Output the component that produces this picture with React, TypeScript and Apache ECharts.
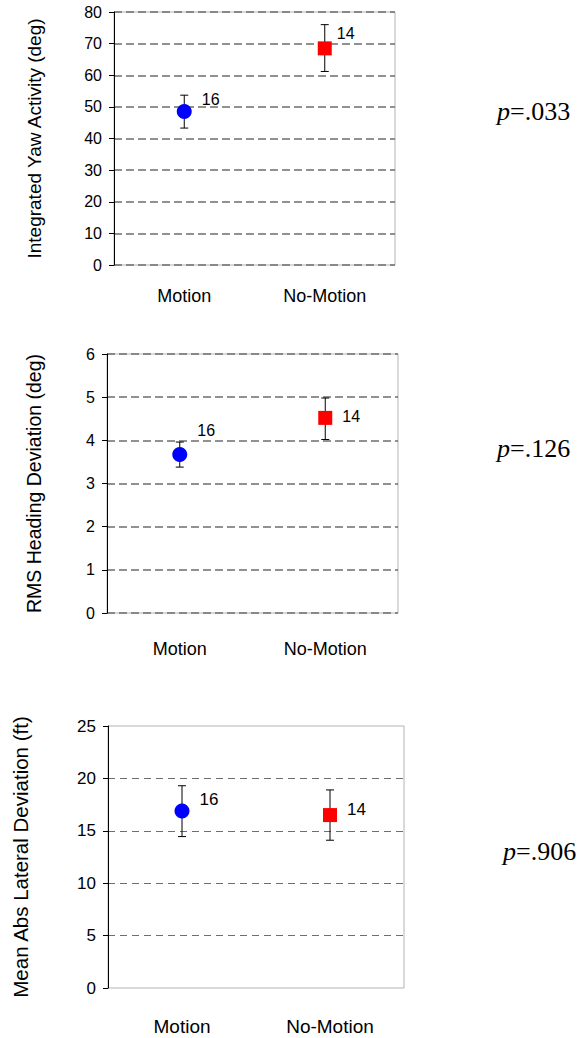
import React, { useEffect, useRef } from "react";
import * as echarts from "echarts";

const categories = ["Motion", "No-Motion"];
const groupN = [16, 14];

const yawMean = [48.5, 68.5];
const yawLow = [43.3, 61.2];
const yawHigh = [53.7, 76.0];

const headingMean = [3.67, 4.52];
const headingLow = [3.38, 4.02];
const headingHigh = [3.96, 4.98];

const lateralMean = [16.9, 16.5];
const lateralLow = [14.45, 14.1];
const lateralHigh = [19.3, 18.9];

const yawTicks = { min: 0, max: 80, interval: 10 };
const headingTicks = { min: 0, max: 6, interval: 1 };
const lateralTicks = { min: 0, max: 25, interval: 5 };

const titles = [
  "Integrated Yaw Activity (deg)",
  "RMS Heading Deviation (deg)",
  "Mean Abs Lateral Deviation (ft)",
];
const pValues = [".033", ".126", ".906"];

// layout / style (not data)
const grids = [
  { left: 114, top: 12, width: 281, height: 253 },
  { left: 107, top: 354, width: 291, height: 259 },
  { left: 108, top: 726, width: 296, height: 262 },
];
const fonts = [
  { tick: 16, cat: 18, title: 19, n: 16, catMargin: 22, nameGap: 70 },
  { tick: 16, cat: 18, title: 19.5, n: 16, catMargin: 27, nameGap: 63 },
  { tick: 17, cat: 19, title: 20.5, n: 17, catMargin: 29, nameGap: 77 },
];
const labelOffsets = [
  [[10, -12], [5, -15]],
  [[10, -24], [10, -1]],
  [[10, -11], [10, -6]],
];
const pPos = [
  { x: 497, y: 120 },
  { x: 497, y: 457 },
  { x: 503, y: 860 },
];

export default function App() {
  const ref = useRef<HTMLDivElement>(null);
  useEffect(() => {
    document.body.style.margin = "0";
    if (!ref.current) return;
    const chart = echarts.init(ref.current, null, { renderer: "svg" });
    const means = [yawMean, headingMean, lateralMean];
    const lows = [yawLow, headingLow, lateralLow];
    const highs = [yawHigh, headingHigh, lateralHigh];
    const ticks = [yawTicks, headingTicks, lateralTicks];
    const FF = "Liberation Sans, Arial, sans-serif";

    const xAxis: any[] = [];
    const yAxis: any[] = [];
    const series: any[] = [];
    for (let i = 0; i < 3; i++) {
      const f = fonts[i];
      xAxis.push({
        type: "category",
        gridIndex: i,
        data: categories,
        axisLine: { show: false },
        axisTick: { show: false },
        axisLabel: { fontFamily: FF, fontSize: f.cat, color: "#000", margin: f.catMargin },
        splitLine: { show: false },
      });
      yAxis.push({
        type: "value",
        gridIndex: i,
        min: ticks[i].min,
        max: ticks[i].max,
        interval: ticks[i].interval,
        name: titles[i],
        nameLocation: "middle",
        nameRotate: 90,
        nameGap: f.nameGap,
        nameTextStyle: { fontFamily: FF, fontSize: f.title, color: "#000" },
        axisLine: { show: true, lineStyle: { color: "#000", width: 1 } },
        axisTick: { show: true, length: 5, lineStyle: { color: "#000" } },
        axisLabel: { fontFamily: FF, fontSize: f.tick, color: "#000", margin: 12 },
        splitLine: {
          show: true,
          showMinLine: i !== 2,
          showMaxLine: i !== 2,
          lineStyle: { color: "#6e6e6e", width: i === 2 ? 1 : 1.5, type: i === 2 ? [7, 5] : [8, 4] },
        },
      });
      series.push({
        type: "custom",
        xAxisIndex: i,
        yAxisIndex: i,
        z: 2,
        data: categories.map((_, k) => [k, lows[i][k], highs[i][k]]),
        encode: { x: 0, y: [1, 2] },
        renderItem: (params: any, api: any) => {
          const x = api.value(0);
          const lo = api.coord([x, api.value(1)]);
          const hi = api.coord([x, api.value(2)]);
          const cap = 4;
          const st = { stroke: "#000", lineWidth: 1 };
          return {
            type: "group",
            children: [
              { type: "line", shape: { x1: hi[0], y1: hi[1], x2: lo[0], y2: lo[1] }, style: st },
              { type: "line", shape: { x1: hi[0] - cap, y1: hi[1], x2: hi[0] + cap, y2: hi[1] }, style: st },
              { type: "line", shape: { x1: lo[0] - cap, y1: lo[1], x2: lo[0] + cap, y2: lo[1] }, style: st },
            ],
          };
        },
      });
      series.push({
        type: "scatter",
        xAxisIndex: i,
        yAxisIndex: i,
        z: 3,
        symbolSize: 15,
        data: means[i].map((v, k) => ({
          value: [k, v],
          symbol: k === 0 ? "circle" : "rect",
          symbolSize: k === 0 ? 15 : 14,
          itemStyle: { color: k === 0 ? "#0000ff" : "#ff0000", opacity: 1 },
          label: {
            show: true,
            position: "right",
            distance: 0,
            offset: labelOffsets[i][k],
            formatter: String(groupN[k]),
            fontFamily: FF,
            fontSize: f.n,
            color: "#000",
          },
        })),
      });
    }

    const graphic = pValues.map((p, i) => ({
      type: "text",
      left: pPos[i].x,
      top: pPos[i].y - 22,
      style: {
        text: "{i|p}{n|=" + p + "}",
        rich: {
          i: { fontFamily: "Liberation Serif, Times New Roman, serif", fontStyle: "italic", fontSize: 26, fill: "#000" },
          n: { fontFamily: "Liberation Serif, Times New Roman, serif", fontSize: 26, fill: "#000" },
        },
      },
    }));

    chart.setOption({
      animation: false,
      backgroundColor: "#fff",
      grid: grids.map((g) => ({ ...g, show: true, borderColor: "#b4b4b4", borderWidth: 1, backgroundColor: "transparent" })),
      xAxis,
      yAxis,
      series,
      graphic,
    });
    return () => chart.dispose();
  }, []);
  return <div ref={ref} style={{ width: 584, height: 1038 }} />;
}
